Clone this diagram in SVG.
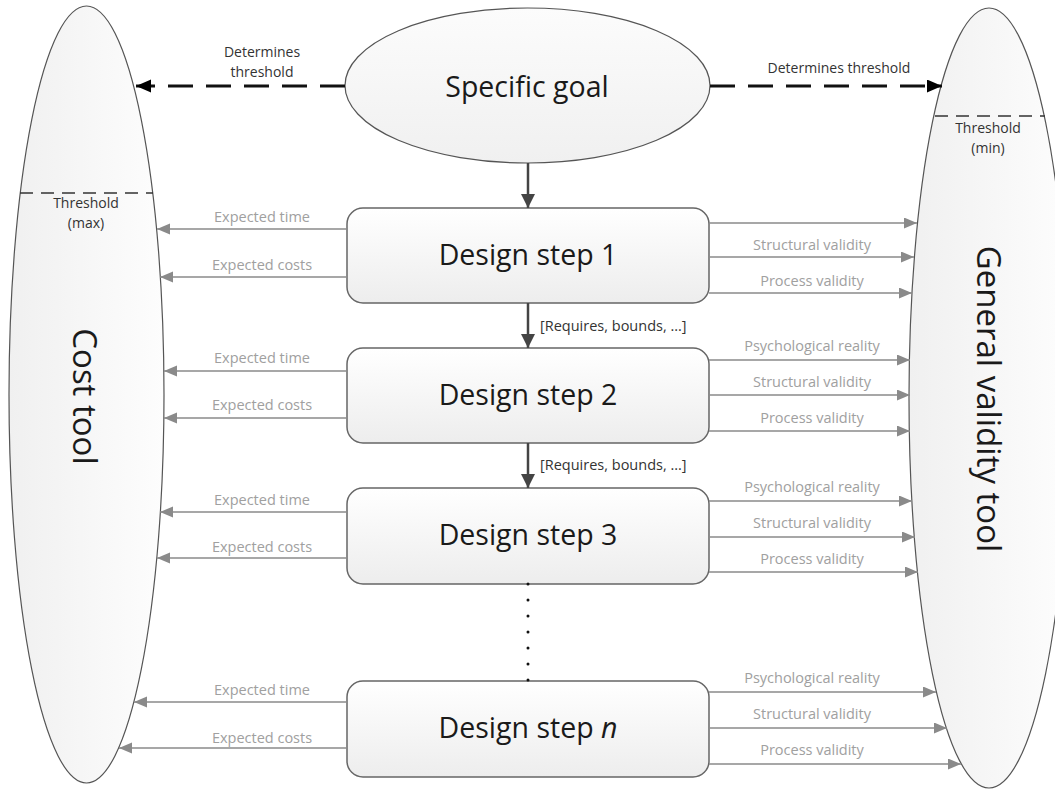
<svg xmlns="http://www.w3.org/2000/svg" width="1055" height="789" viewBox="0 0 1055 789">
  <style>
    text { font-family: "Open Sans", "Liberation Sans", Arial, sans-serif; }
    .tool { fill: url(#toolFill); stroke: #555; stroke-width: 1.2; }
    .goal { fill: url(#goalFill); stroke: #555; stroke-width: 1.2; }
    .step { fill: url(#stepFill); stroke: #666; stroke-width: 1.5; }
    .big { font-size: 28.5px; fill: #1a1a1a; text-anchor: middle; }
    .vert { font-size: 33px; fill: #1a1a1a; text-anchor: middle; }
    .lbl { font-size: 14.5px; fill: #a0a0a0; text-anchor: middle; }
    .note { font-size: 14px; fill: #333; text-anchor: middle; }
    .req { font-size: 14.5px; fill: #333; }
    .flow { stroke: #8a8a8a; stroke-width: 1.6; fill: none; }
    .down { stroke: #444; stroke-width: 2.5; fill: none; }
    .det { stroke: #111; stroke-width: 3; stroke-dasharray: 25 13; fill: none; }
    .thr { stroke: #333; stroke-width: 1.6; stroke-dasharray: 13 8; fill: none; }
  </style>
  <defs>
    <linearGradient id="toolFill" x1="0" y1="0" x2="1" y2="0">
      <stop offset="0" stop-color="#f0f0f0"/>
      <stop offset="1" stop-color="#fdfdfd"/>
    </linearGradient>
    <linearGradient id="goalFill" x1="0" y1="0" x2="0" y2="1">
      <stop offset="0" stop-color="#fcfcfc"/>
      <stop offset="1" stop-color="#f0f0f0"/>
    </linearGradient>
    <linearGradient id="stepFill" x1="0" y1="0" x2="0" y2="1">
      <stop offset="0" stop-color="#ffffff"/>
      <stop offset="1" stop-color="#ededed"/>
    </linearGradient>
    <marker id="grayHead" markerUnits="userSpaceOnUse" markerWidth="14" markerHeight="12" refX="13" refY="5.5" orient="auto">
      <path d="M0,0 L13,5.5 L0,11 z" fill="#8a8a8a"/>
    </marker>
    <marker id="darkHead" markerUnits="userSpaceOnUse" markerWidth="15" markerHeight="15" refX="14" refY="7" orient="auto">
      <path d="M0,0 L14,7 L0,14 z" fill="#444"/>
    </marker>
    <marker id="blackHead" markerUnits="userSpaceOnUse" markerWidth="16" markerHeight="14" refX="15" refY="6.5" orient="auto">
      <path d="M0,0 L15,6.5 L0,13 z" fill="#000"/>
    </marker>
  </defs>

  <!-- Cost tool -->
  <g id="cost-tool">
    <ellipse class="tool" cx="86.5" cy="394.5" rx="77.5" ry="388.5"/>
    <line class="thr" x1="20" y1="193" x2="153" y2="193"/>
    <text class="note" x="86" y="208">Threshold</text>
    <text class="note" x="86" y="228">(max)</text>
    <text class="vert" transform="translate(73,396.5) rotate(90)">Cost tool</text>
  </g>

  <!-- General validity tool -->
  <g id="validity-tool">
    <ellipse class="tool" cx="989" cy="398" rx="80" ry="390"/>
    <line class="thr" x1="935" y1="116" x2="1045" y2="116"/>
    <text class="note" x="988" y="133">Threshold</text>
    <text class="note" x="988" y="153">(min)</text>
    <text class="vert" transform="translate(977,399) rotate(90)">General validity tool</text>
  </g>

  <!-- Specific goal -->
  <g id="specific-goal">
    <ellipse class="goal" cx="527.5" cy="85.5" rx="182.5" ry="77.5"/>
    <text class="big" x="527" y="97">Specific goal</text>
  </g>

  <!-- Design steps -->
  <g id="step-1">
    <rect class="step" x="347" y="208" width="362" height="95" rx="16"/>
    <text class="big" x="528" y="265">Design step 1</text>
  </g>
  <g id="step-2">
    <rect class="step" x="347" y="348" width="362" height="95" rx="16"/>
    <text class="big" x="528" y="405">Design step 2</text>
  </g>
  <g id="step-3">
    <rect class="step" x="347" y="488" width="362" height="96" rx="16"/>
    <text class="big" x="528" y="545">Design step 3</text>
  </g>
  <g id="step-n">
    <rect class="step" x="347" y="681" width="362" height="96" rx="16"/>
    <text class="big" x="528" y="738">Design step <tspan font-style="italic">n</tspan></text>
  </g>

  <!-- Connectors -->
  <g id="connectors">
    <!-- threshold links from the goal -->
    <line class="det" x1="345" y1="86" x2="136" y2="86" marker-end="url(#blackHead)"/>
    <line class="det" x1="710" y1="86" x2="942" y2="86" marker-end="url(#blackHead)"/>
    <text class="note" x="262" y="57">Determines</text>
    <text class="note" x="262" y="77">threshold</text>
    <text class="note" x="839" y="73">Determines threshold</text>

    <!-- main flow -->
    <line class="down" x1="528" y1="163" x2="528" y2="208" marker-end="url(#darkHead)"/>
    <line class="down" x1="528" y1="303" x2="528" y2="348" marker-end="url(#darkHead)"/>
    <line class="down" x1="528" y1="443" x2="528" y2="488" marker-end="url(#darkHead)"/>
    <text class="req" x="540" y="331">[Requires, bounds, ...]</text>
    <text class="req" x="540" y="470">[Requires, bounds, ...]</text>
    <line x1="528" y1="584" x2="528" y2="681" stroke="#111" stroke-width="3" stroke-linecap="round" stroke-dasharray="0 16"/>

    <!-- cost outputs -->
    <line class="flow" x1="347" y1="229" x2="157" y2="229" marker-end="url(#grayHead)"/>
    <line class="flow" x1="347" y1="277" x2="160" y2="277" marker-end="url(#grayHead)"/>
    <line class="flow" x1="347" y1="371" x2="164" y2="371" marker-end="url(#grayHead)"/>
    <line class="flow" x1="347" y1="418" x2="164" y2="418" marker-end="url(#grayHead)"/>
    <line class="flow" x1="347" y1="512" x2="160" y2="512" marker-end="url(#grayHead)"/>
    <line class="flow" x1="347" y1="558" x2="157" y2="558" marker-end="url(#grayHead)"/>
    <line class="flow" x1="347" y1="702" x2="134" y2="702" marker-end="url(#grayHead)"/>
    <line class="flow" x1="347" y1="748" x2="119" y2="748" marker-end="url(#grayHead)"/>
    <text class="lbl" x="262" y="222">Expected time</text>
    <text class="lbl" x="262" y="270">Expected costs</text>
    <text class="lbl" x="262" y="363">Expected time</text>
    <text class="lbl" x="262" y="410">Expected costs</text>
    <text class="lbl" x="262" y="505">Expected time</text>
    <text class="lbl" x="262" y="552">Expected costs</text>
    <text class="lbl" x="262" y="695">Expected time</text>
    <text class="lbl" x="262" y="743">Expected costs</text>

    <!-- validity outputs -->
    <line class="flow" x1="709" y1="223" x2="917" y2="223" marker-end="url(#grayHead)"/>
    <line class="flow" x1="709" y1="257" x2="914" y2="257" marker-end="url(#grayHead)"/>
    <line class="flow" x1="709" y1="293" x2="912" y2="293" marker-end="url(#grayHead)"/>
    <line class="flow" x1="709" y1="360" x2="910" y2="360" marker-end="url(#grayHead)"/>
    <line class="flow" x1="709" y1="395" x2="910" y2="395" marker-end="url(#grayHead)"/>
    <line class="flow" x1="709" y1="431" x2="910" y2="431" marker-end="url(#grayHead)"/>
    <line class="flow" x1="709" y1="501" x2="912" y2="501" marker-end="url(#grayHead)"/>
    <line class="flow" x1="709" y1="537" x2="915" y2="537" marker-end="url(#grayHead)"/>
    <line class="flow" x1="709" y1="572" x2="918" y2="572" marker-end="url(#grayHead)"/>
    <line class="flow" x1="709" y1="692" x2="936" y2="692" marker-end="url(#grayHead)"/>
    <line class="flow" x1="709" y1="728" x2="947" y2="728" marker-end="url(#grayHead)"/>
    <line class="flow" x1="709" y1="764" x2="961" y2="764" marker-end="url(#grayHead)"/>
    <text class="lbl" x="812" y="250">Structural validity</text>
    <text class="lbl" x="812" y="286">Process validity</text>
    <text class="lbl" x="812" y="351">Psychological reality</text>
    <text class="lbl" x="812" y="387">Structural validity</text>
    <text class="lbl" x="812" y="423">Process validity</text>
    <text class="lbl" x="812" y="492">Psychological reality</text>
    <text class="lbl" x="812" y="528">Structural validity</text>
    <text class="lbl" x="812" y="564">Process validity</text>
    <text class="lbl" x="812" y="683">Psychological reality</text>
    <text class="lbl" x="812" y="719">Structural validity</text>
    <text class="lbl" x="812" y="755">Process validity</text>
  </g>
</svg>
